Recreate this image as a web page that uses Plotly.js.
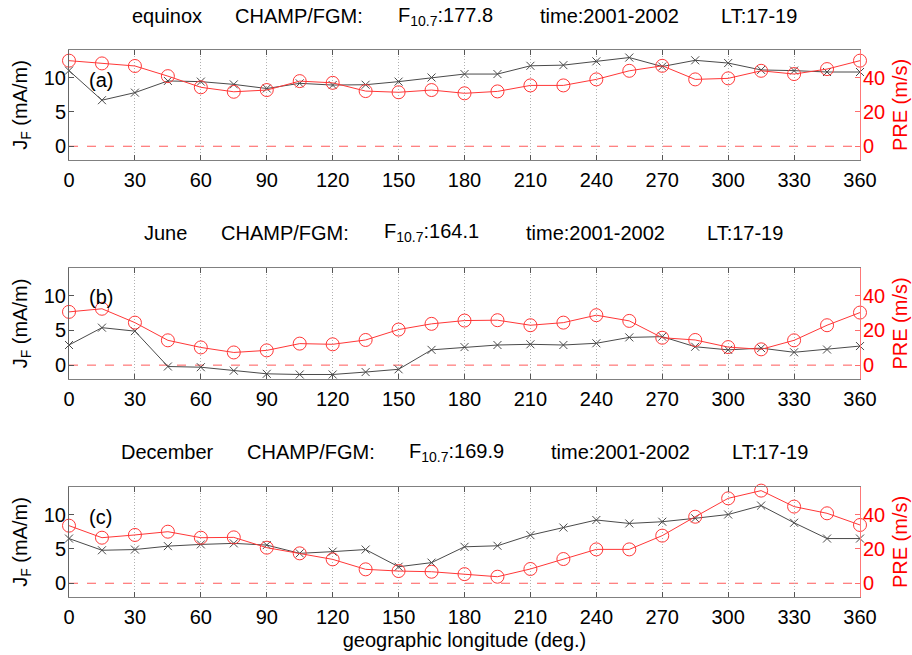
<!DOCTYPE html>
<html>
<head>
<meta charset="utf-8">
<script src="https://cdn.plot.ly/plotly-3.0.1.min.js"></script>
<style>html,body{margin:0;padding:0;background:#fff}#chart{width:912px;height:655px}</style>
</head>
<body>
<div id="chart"></div>
<script>
// ---- data ----
const longitude = [0,15,30,45,60,75,90,105,120,135,150,165,180,195,210,225,240,255,270,285,300,315,330,345,360];

const jfEquinox = [11.0,6.7,7.8,9.5,9.4,9.0,8.4,9.15,8.9,8.95,9.4,10.0,10.5,10.5,11.7,11.8,12.35,12.9,11.6,12.5,12.1,11.1,11.0,10.8,10.8];
const preEquinox = [49.8,48.2,46.7,40.8,34.3,31.7,32.7,37.9,36.9,32.1,31.4,32.7,30.8,31.9,35.4,35.4,38.9,43.9,46.8,38.9,39.5,43.9,42.0,44.9,49.8];

const jfJune = [2.9,5.4,4.9,-0.2,-0.3,-0.8,-1.25,-1.35,-1.35,-1.0,-0.6,2.2,2.6,2.9,3.0,2.9,3.15,4.0,4.1,2.65,2.2,2.45,1.85,2.25,2.75];
const preJune = [30.7,32.5,24.5,14.3,10.2,7.3,8.5,12.4,12.0,14.5,20.5,23.8,25.7,25.9,23.0,24.5,28.8,25.5,15.8,14.5,10.4,9.1,14.3,23.0,30.3];

const jfDecember = [6.5,4.8,4.9,5.4,5.65,5.8,5.55,4.35,4.6,4.9,2.4,3.0,5.3,5.45,7.0,8.1,9.2,8.7,8.95,9.45,10.0,11.3,8.8,6.5,6.5];
const preDecember = [33.5,26.5,28.1,30.0,26.5,26.7,20.7,17.4,13.9,8.1,7.1,6.7,5.3,3.8,8.3,14.1,19.7,19.7,27.7,38.7,49.4,53.9,44.6,40.7,33.9];

const seasons = ["equinox","June","December"];
const f107 = ["177.8","164.1","169.9"];
const timeLabel = "time:2001-2002";
const ltLabel = "LT:17-19";
const panelLabels = ["(a)","(b)","(c)"];
const xTicks = [0,30,60,90,120,150,180,210,240,270,300,330,360];
const jfTicks = [0,5,10];
const preTicks = [0,20,40];
const jfTitle = "J<sub>F</sub> (mA/m)";
const preTitle = "PRE (m/s)";
const xTitle = "geographic longitude (deg.)";

// ---- layout helpers ----
const FONT = "Liberation Sans, Arial, Helvetica, sans-serif";
const FS = 20;
const W = 912, H = 655;
const M = {l:69, r:52, t:50, b:58};
const plotW = W - M.l - M.r, plotH = H - M.t - M.b;
const px2x = p => (p - M.l) / plotW;
const py2y = p => (H - M.b - p) / plotH;

const domains = [[py2y(160), py2y(50)], [py2y(379), py2y(268)], [py2y(597), py2y(487)]];
const jfSets = [jfEquinox, jfJune, jfDecember];
const preSets = [preEquinox, preJune, preDecember];

const BLACK = "#4a4a4a";
const RED = "rgb(255,55,55)";
const FRAME = "#808080";

const data = [];
const layout = {
  width: W, height: H,
  margin: M,
  paper_bgcolor: "#fff", plot_bgcolor: "#fff",
  showlegend: false,
  font: {family: FONT, size: FS, color: "#000"},
  shapes: [], annotations: []
};

// title piece positions (pixel centres) per panel
const titleX = [
  [166.5, 299, 445.5, 609, 759],
  [165.5, 284.5, 431, 595.5, 744.5],
  [167, 311, 456.5, 620.5, 769.5]
];
const titleY = [16, 233, 452];
const labelY = [80, 297, 517];

for (let i = 0; i < 3; i++) {
  const xa = i === 0 ? "x" : "x" + (i + 1);
  const yl = "y" + (2 * i + 1 === 1 ? "" : 2 * i + 1);
  const yr = "y" + (2 * i + 2);
  const xKey = i === 0 ? "xaxis" : "xaxis" + (i + 1);
  const ylKey = 2 * i + 1 === 1 ? "yaxis" : "yaxis" + (2 * i + 1);
  const yrKey = "yaxis" + (2 * i + 2);

  data.push({
    x: longitude, y: jfSets[i], xaxis: xa, yaxis: yl, type: "scatter", mode: "lines+markers",
    line: {color: BLACK, width: 1},
    marker: {symbol: "x-thin-open", size: 8, line: {color: BLACK, width: 1}, color: BLACK},
    cliponaxis: false
  });
  data.push({
    x: longitude, y: preSets[i], xaxis: xa, yaxis: yr, type: "scatter", mode: "lines+markers",
    line: {color: RED, width: 1},
    marker: {symbol: "circle-open", size: 13, line: {color: RED, width: 1}, color: RED},
    cliponaxis: false
  });

  layout[xKey] = {
    domain: [0, 1], anchor: yl, range: [0, 360],
    tickvals: xTicks, ticks: "inside", ticklen: 5, tickcolor: "#555",
    showgrid: true, gridcolor: "#b0b0b0", griddash: "1px,2px", gridwidth: 1,
    showline: true, linecolor: FRAME, linewidth: 1, mirror: "ticks",
    zeroline: false, tickfont: {size: FS, color: "#000", family: FONT},
    ticklabelstandoff: 2
  };
  if (i === 2) {
    layout[xKey].title = {text: xTitle, font: {size: FS, family: FONT, color: "#000"}, standoff: 5};
  }
  layout[ylKey] = {
    domain: domains[i], anchor: xa, range: [-2, 14],
    tickvals: jfTicks, ticks: "inside", ticklen: 5, tickcolor: "#555",
    showgrid: false, zeroline: false,
    showline: true, linecolor: "#666", linewidth: 1,
    tickfont: {size: FS, color: "#000", family: FONT},
    ticklabelstandoff: -2,
    title: {text: jfTitle, font: {size: FS, family: FONT, color: "#000"}, standoff: 10}
  };
  layout[yrKey] = {
    domain: domains[i], anchor: xa, overlaying: yl, side: "right", range: [-8, 56],
    tickvals: preTicks, ticks: "inside", ticklen: 5, tickcolor: "rgb(255,110,110)",
    showgrid: false, zeroline: false,
    showline: true, linecolor: "rgb(255,120,120)", linewidth: 1,
    tickfont: {size: FS, color: "#ff0000", family: FONT},
    ticklabelstandoff: -2,
    title: {text: preTitle, font: {size: FS, family: FONT, color: "#ff0000"}, standoff: 8}
  };

  // dashed zero reference line
  layout.shapes.push({
    type: "line", xref: xa + " domain", yref: yl, x0: 0, x1: 1, y0: 0, y1: 0,
    line: {color: "rgb(255,90,90)", width: 1, dash: "dash"}, layer: "below"
  });

  // panel label
  layout.annotations.push({
    text: panelLabels[i], xref: "paper", yref: "paper",
    x: px2x(87), y: py2y(labelY[i]), xanchor: "left", yanchor: "middle",
    showarrow: false, font: {size: FS, family: FONT, color: "#000"}
  });

  // title pieces
  const pieces = [seasons[i], "CHAMP/FGM:", "F<sub>10.7</sub>:" + f107[i], timeLabel, ltLabel];
  pieces.forEach((t, k) => {
    layout.annotations.push({
      text: t, xref: "paper", yref: "paper",
      x: px2x(titleX[i][k]), y: py2y(titleY[i]), xanchor: "center", yanchor: "middle",
      showarrow: false, font: {size: FS, family: FONT, color: "#000"}
    });
  });
}

Plotly.newPlot("chart", data, layout, {displayModeBar: false, staticPlot: true});
</script>
</body>
</html>
